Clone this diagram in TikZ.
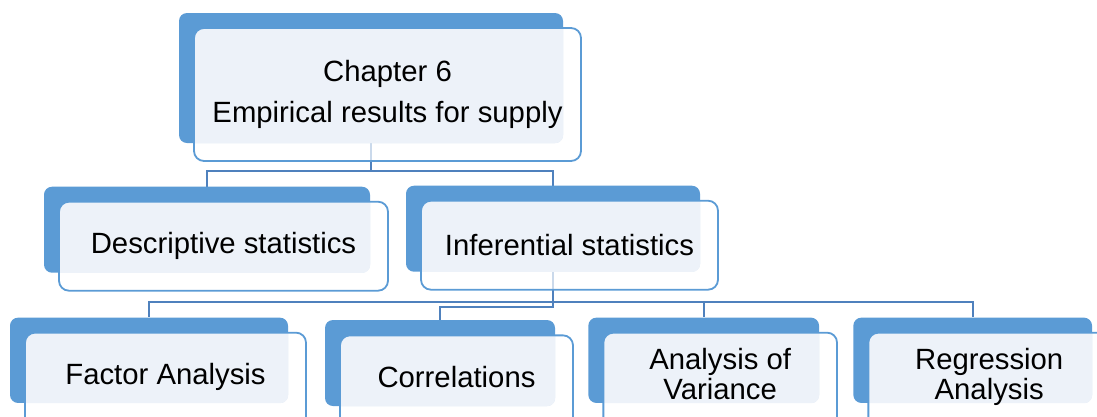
\documentclass[tikz,border=0pt]{standalone}
\usepackage{fontspec}
\setmainfont{Liberation Sans}
\usetikzlibrary{backgrounds}
\definecolor{boxblue}{HTML}{5B9BD5}
\definecolor{paleblue}{HTML}{EDF2F9}
\definecolor{lineblue}{HTML}{4F81BD}
\tikzset{
	backbox/.style={rectangle, rounded corners=8pt, fill=boxblue, inner sep=0pt},
	frontbox/.style={rectangle, rounded corners=10pt, draw=boxblue, line width=1.8pt,
		fill=white, fill opacity=0.7, text opacity=1, inner sep=0pt,
		font=\fontsize{29.3}{30}\selectfont, align=center},
	cutbox/.style={minimum height=108.3pt, yshift=-10pt, text depth=26pt},
	connector/.style={draw=lineblue, line width=2pt}
}
\begin{document}
\begin{tikzpicture}[x=1pt,y=1pt]
		\newcommand{\mytile}[7][]{
			\node [backbox, minimum width=#5pt, minimum height=#6pt] (#2back) at (#3,#4) {};
			\node [frontbox, minimum width=#5pt+3pt, minimum height=#6pt+3pt,
				path picture={\fill[paleblue, fill opacity=1, rounded corners=8pt] (#2back.north west) rectangle (#2back.south east);}, #1]
				(#2) at (#3+16.5,#4-16.5) {#7};
		}%Page size
		\useasboundingbox (0,0) rectangle (1097,-416);
		%Chapter box at the top
		\mytile{chap}{371}{-78}{384}{130}{Chapter 6\\[11pt]Empirical results for supply}
		%Second row
		\mytile{desc}{207}{-229.7}{326}{86}{Descriptive statistics}
		\mytile{infer}{553}{-228.7}{294}{86}{Inferential statistics}
		%Third row, running off the bottom of the page
		\mytile[cutbox]{factor}{149}{-360.3}{278}{85.3}{Factor Analysis}
		\mytile[cutbox]{corr}{440}{-363}{230}{86}{Correlations}
		\mytile[cutbox]{anova}{703.7}{-360.3}{230.7}{85.3}{Analysis of\\Variance}
		\mytile[cutbox]{regr}{972.7}{-360.3}{238.7}{85.3}{Regression\\Analysis}
		%Connectors behind the boxes
		\begin{pgfonlayer}{background}
		\draw [connector] (chapback.south) -- ++(0,-28) -| (descback.north);
		\draw [connector] (chapback.south) -- ++(0,-28) -| (inferback.north);
		\draw [connector] (inferback.south) -- ++(0,-30.3) -| (factorback.north);
		\draw [connector] (inferback.south) -- ++(0,-35.3) -| (corrback.north);
		\draw [connector] (inferback.south) -- ++(0,-30.3) -| (anovaback.north);
		\draw [connector] (inferback.south) -- ++(0,-30.3) -| (regrback.north);
		\end{pgfonlayer}
\end{tikzpicture}
\end{document}
